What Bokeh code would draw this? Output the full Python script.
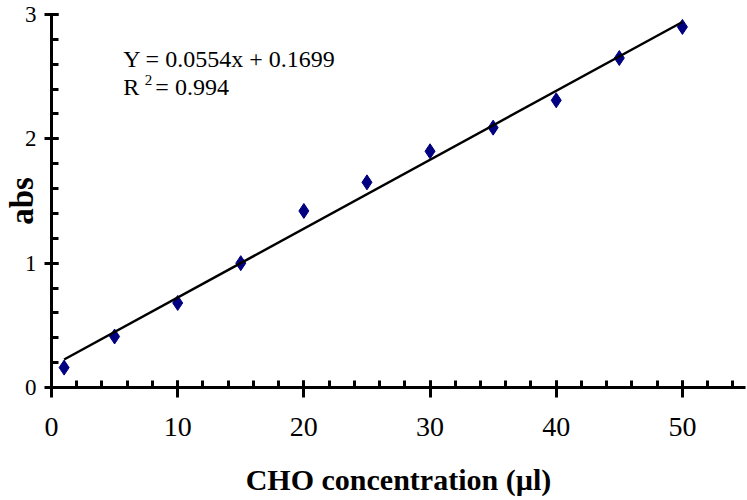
from bokeh.plotting import figure
from bokeh.models import Range1d, SingleIntervalTicker, Label, ColumnDataSource
from bokeh.embed import file_html
from bokeh.resources import INLINE

# Data
conc = [1, 5, 10, 15, 20, 25, 30, 35, 40, 45, 50]
absorbance = [0.16, 0.41, 0.68, 1.00, 1.42, 1.65, 1.90, 2.09, 2.31, 2.65, 2.90]

# Linear trendline (from the chart's equation)
slope = 0.0554
intercept = 0.1699
fit_x = [1, 50]
fit_y = [slope * v + intercept for v in fit_x]

eq_text = "Y = 0.0554x + 0.1699"
r2_label = "R"
r2_sup = "2"
r2_value = "= 0.994"

x_label = "CHO concentration (\u00b5l)"
y_label = "abs"

FONT = "Liberation Serif"

p = figure(width=747, height=500, output_backend="svg", toolbar_location=None,
           x_range=Range1d(0, 55), y_range=Range1d(0, 3),
           min_border_left=51, min_border_right=2, min_border_top=14, min_border_bottom=113)
p.outline_line_color = None
p.xgrid.visible = False
p.ygrid.visible = False
p.background_fill_color = "white"
p.border_fill_color = "white"

src = ColumnDataSource(dict(x=conc, y=absorbance))
p.scatter("x", "y", source=src, marker="diamond", size=15,
          fill_color="#000080", line_color="#000080", line_width=1)
p.line(fit_x, fit_y, line_color="black", line_width=2.5)

# X axis
xa = p.xaxis[0]
xa.ticker = SingleIntervalTicker(interval=10, num_minor_ticks=5)
xa.axis_line_width = 3
xa.axis_line_color = "black"
xa.major_tick_line_width = 3
xa.minor_tick_line_width = 3
xa.major_tick_in = 7
xa.major_tick_out = 10
xa.minor_tick_in = 7
xa.minor_tick_out = 0
xa.major_label_text_font = FONT
xa.major_label_text_font_size = "28px"
xa.major_label_text_color = "black"
xa.major_label_standoff = 20
xa.axis_label = x_label
xa.axis_label_text_font = FONT
xa.axis_label_text_font_style = "bold"
xa.axis_label_text_font_size = "30px"
xa.axis_label_text_color = "black"
xa.axis_label_standoff = 24

# Y axis
ya = p.yaxis[0]
ya.ticker = SingleIntervalTicker(interval=1, num_minor_ticks=5)
ya.axis_line_width = 3
ya.axis_line_color = "black"
ya.major_tick_line_width = 3
ya.minor_tick_line_width = 3
ya.major_tick_in = 7
ya.major_tick_out = 7
ya.minor_tick_in = 7
ya.minor_tick_out = 0
ya.major_label_text_font = FONT
ya.major_label_text_font_size = "23px"
ya.major_label_text_color = "black"
ya.major_label_standoff = 8
ya.axis_label = y_label
ya.axis_label_text_font = FONT
ya.axis_label_text_font_style = "bold"
ya.axis_label_text_font_size = "33px"
ya.axis_label_text_color = "black"
ya.axis_label_standoff = -18

# Equation annotations
p.add_layout(Label(x=5.68, y=2.643, text=eq_text, text_font=FONT,
                   text_font_size="24px", text_color="black", text_baseline="alphabetic"))
p.add_layout(Label(x=5.68, y=2.420, text=r2_label, text_font=FONT,
                   text_font_size="24px", text_color="black", text_baseline="alphabetic"))
p.add_layout(Label(x=7.40, y=2.470, text=r2_sup, text_font=FONT,
                   text_font_size="15px", text_color="black", text_baseline="alphabetic"))
p.add_layout(Label(x=8.23, y=2.420, text=r2_value, text_font=FONT,
                   text_font_size="24px", text_color="black", text_baseline="alphabetic"))

open("out.html", "w").write(file_html(p, INLINE))
